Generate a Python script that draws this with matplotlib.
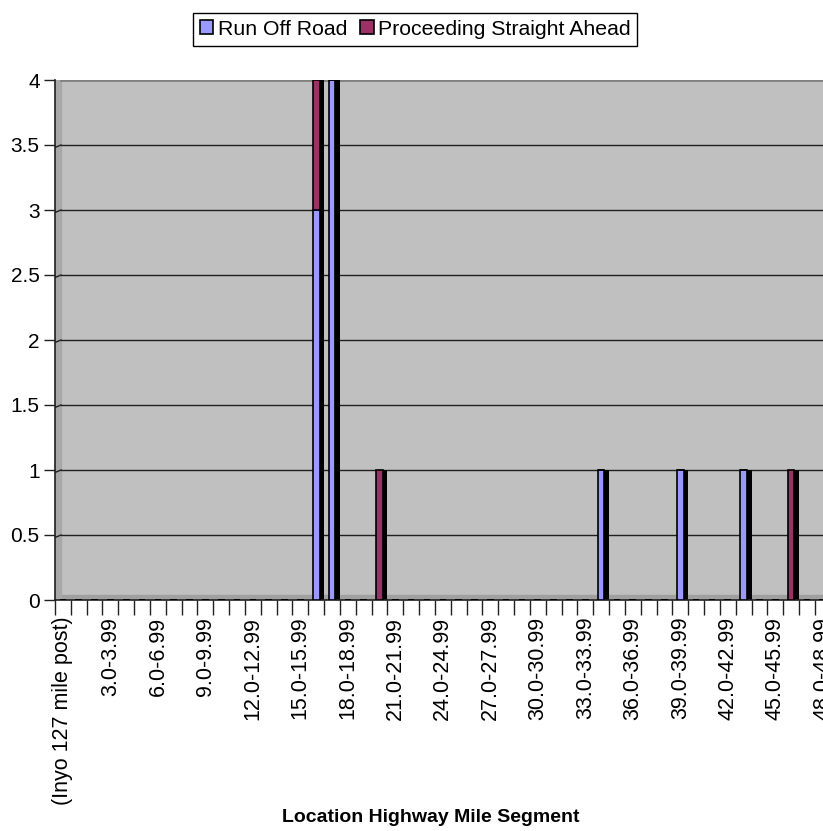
import matplotlib.pyplot as plt
from matplotlib.patches import Rectangle

plt.rcParams['font.family'] = ['Liberation Sans', 'DejaVu Sans']

# mile segments 0.0-0.99 ... 48.0-48.99 (plus the cut-off tail on the right)
n_segments = 52
run_off_road = [0, 0, 0, 0, 0, 0, 0, 0, 0, 0,
                0, 0, 0, 0, 0, 0, 3, 4, 0, 0,
                0, 0, 0, 0, 0, 0, 0, 0, 0, 0,
                0, 0, 0, 0, 1, 0, 0, 0, 0, 1,
                0, 0, 0, 1, 0, 0, 0, 0, 0, 0,
                0, 0]
straight_ahead = [0, 0, 0, 0, 0, 0, 0, 0, 0, 0,
                  0, 0, 0, 0, 0, 0, 1, 0, 0, 0,
                  1, 0, 0, 0, 0, 0, 0, 0, 0, 0,
                  0, 0, 0, 0, 0, 0, 0, 0, 0, 0,
                  0, 0, 0, 0, 0, 0, 1, 0, 0, 0,
                  0, 0]
label_pos = [0, 3, 6, 9, 12, 15, 18, 21, 24, 27, 30, 33, 36, 39, 42, 45, 48]
label_txt = ["(Inyo 127 mile post)", "3.0-3.99", "6.0-6.99", "9.0-9.99",
             "12.0-12.99", "15.0-15.99", "18.0-18.99", "21.0-21.99",
             "24.0-24.99", "27.0-27.99", "30.0-30.99", "33.0-33.99",
             "36.0-36.99", "39.0-39.99", "42.0-42.99", "45.0-45.99",
             "48.0-48.99"]
y_ticks = [0, 0.5, 1, 1.5, 2, 2.5, 3, 3.5, 4]
y_labels = ["0", "0.5", "1", "1.5", "2", "2.5", "3", "3.5", "4"]

W, H = 823, 831
fig = plt.figure(figsize=(W / 100, H / 100), dpi=100)
cat_px = 15.83
ax = fig.add_axes([55 / W, (H - 600) / H, n_segments * cat_px / W, 520 / H])
ax.set_xlim(0, n_segments)
ax.set_ylim(0, 4)
ax.set_facecolor('#C0C0C0')

# 3D-ish wall and floor
dx = 6 / cat_px
dy = 5 / 130
ax.add_patch(Rectangle((0, 0), n_segments, dy, color='#A0A0A0', zorder=0.5))
ax.add_patch(Rectangle((0, 0), dx, 4, color='#A8A8A8', zorder=0.5))
ax.plot([dx, n_segments], [4, 4], color='#808080', lw=2, zorder=0.6)
for yv in y_ticks[1:-1]:
    ax.plot([dx, n_segments], [yv, yv], color='#202020', lw=1, zorder=0.6)
    ax.plot([0, dx], [yv - dy * 0.5, yv], color='#202020', lw=1, zorder=0.6)

centers = [i + 0.5 for i in range(n_segments)]
shadow = [c + 0.05 for c in centers]
tot = [a + b for a, b in zip(run_off_road, straight_ahead)]

# black side of the bars
ax.bar(shadow, tot, width=0.45, color='black', align='edge', zorder=2)
ax.bar(centers, run_off_road, width=0.42, color='#9999FF', edgecolor='black',
       lw=1.2, zorder=3, label='Run Off Road')
ax.bar(centers, straight_ahead, width=0.42, bottom=run_off_road, color='#993366',
       edgecolor='black', lw=1.2, zorder=3, label='Proceeding Straight Ahead')

for s in ['top', 'right']:
    ax.spines[s].set_visible(False)
ax.spines['left'].set_color('#202020')
ax.spines['bottom'].set_color('#202020')
ax.spines['left'].set_linewidth(1.2)
ax.spines['bottom'].set_linewidth(1.2)

ax.set_yticks(y_ticks)
ax.set_yticklabels(y_labels, fontsize=15)
ax.tick_params(axis='y', length=8, width=1, pad=3, color='#202020')

ax.set_xticks(range(n_segments + 1), minor=True)
ax.set_xticks([p + 0.5 for p in label_pos])
ax.set_xticklabels(label_txt, rotation=90, fontsize=15.5, va='top', ha='center')
ax.tick_params(axis='x', which='minor', length=11, width=1, color='#202020')
ax.tick_params(axis='x', which='major', length=0, pad=12)

fig.text(431 / W, 1 - 818 / H, "Location Highway Mile Segment", fontsize=14,
         fontweight='bold', ha='center', va='center')

leg = fig.legend(loc='upper center', bbox_to_anchor=(415 / W, 1 - 13 / H), ncol=2,
                 fontsize=15.3, fancybox=False, edgecolor='black', framealpha=1,
                 handlelength=0.65, handleheight=0.65, handletextpad=0.2,
                 columnspacing=0.6, borderpad=0.32, borderaxespad=0)
leg.get_frame().set_linewidth(1)

fig.savefig('out.png', dpi=100)
